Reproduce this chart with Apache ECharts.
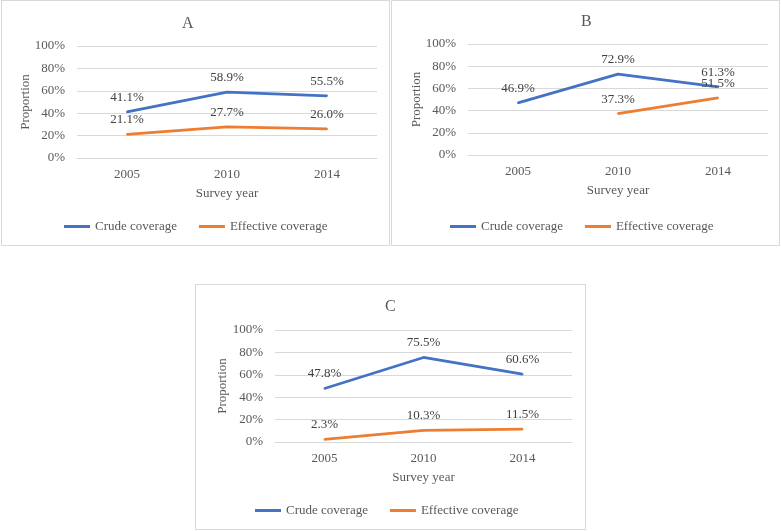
<!DOCTYPE html>
<html>
<head>
<meta charset="utf-8">
<script src="https://cdn.jsdelivr.net/npm/echarts@6/dist/echarts.min.js"></script>
<style>
  body { margin: 0; background: #fff; }
  .panel { position: absolute; box-sizing: border-box; border: 1px solid #d9d9d9; background: #fff; }
</style>
</head>
<body>
<div id="chartA" class="panel" style="left:1px;top:0px;width:389px;height:246px;"></div>
<div id="chartB" class="panel" style="left:391px;top:0px;width:389px;height:246px;"></div>
<div id="chartC" class="panel" style="left:195px;top:284px;width:391px;height:246px;"></div>
<script>
var years = ['2005', '2010', '2014']
var seriesNames = ['Crude coverage', 'Effective coverage']
var yTicks = [0, 20, 40, 60, 80, 100]

var crudeA = [41.1, 58.9, 55.5]
var effectiveA = [21.1, 27.7, 26.0]
var crudeB = [46.9, 72.9, 61.3]
var effectiveB = [null, 37.3, 51.5]
var crudeC = [47.8, 75.5, 60.6]
var effectiveC = [2.3, 10.3, 11.5]

var font = "'Liberation Serif', 'Times New Roman', serif"
var textGrey = '#595959'

function makeSeries(name, data, color) {
  return {
    name: name,
    type: 'line',
    data: data,
    // labels need a symbol to hang on, keep it tiny so only the line shows
    symbol: 'circle',
    symbolSize: 2,
    showSymbol: true,
    connectNulls: false,
    lineStyle: { color: color, width: 2.75 },
    itemStyle: { color: color },
    label: {
      show: true,
      position: 'top',
      distance: 7,
      fontFamily: font,
      fontSize: 13,
      color: '#404040',
      formatter: function(p) {
        return p.value == null ? '' : Number(p.value).toFixed(1) + '%'
      }
    },
    animation: false
  }
}

function drawPanel(id, title, crude, effective, layout) {
  var chart = echarts.init(document.getElementById(id))
  chart.setOption({
    animation: false,
    title: {
      text: title,
      left: layout.titleLeft,
      top: layout.titleTop,
      textStyle: { fontFamily: font, fontSize: 16, fontWeight: 'normal', color: textGrey }
    },
    grid: {
      left: layout.left,
      top: layout.top,
      width: layout.width,
      height: layout.height,
      containLabel: false
    },
    legend: {
      data: seriesNames,
      left: layout.legendLeft,
      top: 214,
      icon: 'rect',
      itemWidth: 26,
      itemHeight: 3,
      itemGap: 22,
      textStyle: { fontFamily: font, fontSize: 13, color: textGrey }
    },
    xAxis: {
      type: 'category',
      data: years,
      boundaryGap: true,
      name: 'Survey year',
      nameLocation: 'middle',
      nameGap: 29,
      nameTextStyle: { fontFamily: font, fontSize: 13, color: textGrey },
      axisLine: { show: true, lineStyle: { color: '#d9d9d9' } },
      axisTick: { show: false },
      axisLabel: { margin: 10, fontFamily: font, fontSize: 13, color: textGrey }
    },
    yAxis: {
      type: 'value',
      min: yTicks[0],
      max: yTicks[yTicks.length - 1],
      interval: yTicks[1] - yTicks[0],
      name: 'Proportion',
      nameLocation: 'middle',
      nameGap: layout.nameGap,
      nameMoveOverlap: false,
      nameTextStyle: { fontFamily: font, fontSize: 13, color: textGrey },
      axisLine: { show: false },
      axisTick: { show: false },
      splitLine: { lineStyle: { color: '#d9d9d9' } },
      axisLabel: { margin: 12, fontFamily: font, fontSize: 13, color: textGrey, formatter: '{value}%' }
    },
    series: [
      makeSeries(seriesNames[0], crude, '#4472c4'),
      makeSeries(seriesNames[1], effective, '#ed7d31')
    ]
  })
  return chart
}

drawPanel('chartA', 'A', crudeA, effectiveA, {
  left: 75, top: 45, width: 300, height: 112, nameGap: 45,
  titleLeft: 175, titleTop: 10, legendLeft: 57
})
drawPanel('chartB', 'B', crudeB, effectiveB, {
  left: 76, top: 43, width: 300, height: 111, nameGap: 45,
  titleLeft: 184, titleTop: 8, legendLeft: 53
})
drawPanel('chartC', 'C', crudeC, effectiveC, {
  left: 79, top: 45, width: 297, height: 112, nameGap: 46,
  titleLeft: 184, titleTop: 9, legendLeft: 54
})
</script>
</body>
</html>
